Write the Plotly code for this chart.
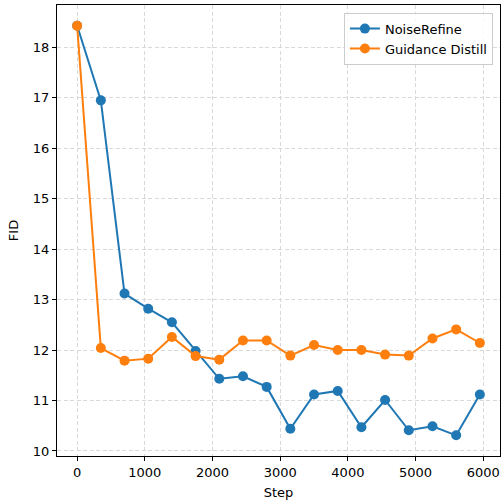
import plotly.graph_objects as go

steps = [0, 350, 700, 1050, 1400, 1750, 2100, 2450, 2800, 3150, 3500, 3850, 4200, 4550, 4900, 5250, 5600, 5950]
noise_refine = [18.43, 16.95, 13.12, 12.82, 12.55, 11.98, 11.43, 11.48, 11.27, 10.44, 11.12, 11.19, 10.47, 11.01, 10.41, 10.49, 10.31, 11.12]
guidance_distill = [18.43, 12.04, 11.79, 11.83, 12.26, 11.88, 11.81, 12.19, 12.19, 11.89, 12.10, 12.00, 12.00, 11.91, 11.89, 12.23, 12.41, 12.14]

fig = go.Figure()
fig.add_trace(go.Scatter(x=steps, y=noise_refine, mode="lines+markers", name="NoiseRefine",
                         line=dict(color="#1f77b4", width=2), marker=dict(size=10, color="#1f77b4")))
fig.add_trace(go.Scatter(x=steps, y=guidance_distill, mode="lines+markers", name="Guidance Distill",
                         line=dict(color="#ff7f0e", width=2), marker=dict(size=10, color="#ff7f0e")))

axis_common = dict(showline=True, linecolor="black", linewidth=1, mirror=True,
                   ticks="outside", ticklen=4, tickcolor="black",
                   showgrid=True, gridcolor="#d9d9d9", griddash="4px,2.5px", gridwidth=1,
                   zeroline=False, tickfont=dict(family="DejaVu Sans", size=13, color="black"),
                   title_font=dict(family="DejaVu Sans", size=13, color="black"))

fig.update_layout(
    width=503, height=501,
    margin=dict(l=57, r=3, t=5, b=45),
    plot_bgcolor="white", paper_bgcolor="white",
    font=dict(family="DejaVu Sans", size=13, color="black"),
    xaxis=dict(range=[-297.5, 6247.5], tickvals=[0, 1000, 2000, 3000, 4000, 5000, 6000],
               title=dict(text="Step", standoff=9), **axis_common),
    yaxis=dict(range=[9.9, 18.84], tickvals=[10, 11, 12, 13, 14, 15, 16, 17, 18],
               title=dict(text="FID", standoff=11), **axis_common),
    legend=dict(x=0.984, y=0.983, xanchor="right", yanchor="top",
                bgcolor="rgba(255,255,255,0.8)", bordercolor="#cccccc", borderwidth=1,
                font=dict(family="DejaVu Sans", size=13)),
    showlegend=True,
)

fig.write_html("out.html", config={"displayModeBar": False},
               post_script="document.body.style.margin='0';document.body.style.overflow='hidden';")
